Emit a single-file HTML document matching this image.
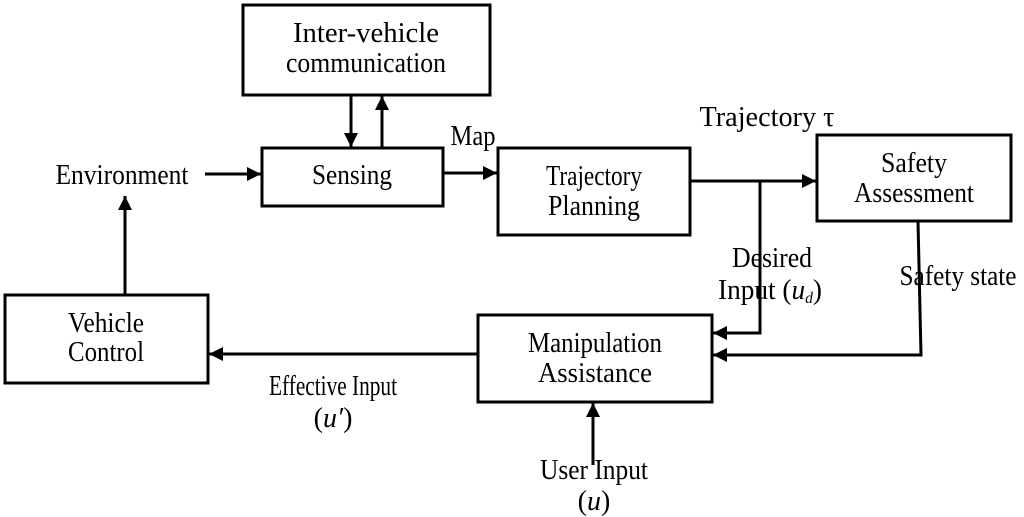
<!DOCTYPE html>
<html><head><style>html,body{margin:0;padding:0;background:#fff}svg{display:block}text{font-family:"Liberation Serif",serif;font-size:28px;fill:#000}</style></head><body>
<svg width="1024" height="517" viewBox="0 0 1024 517" xmlns="http://www.w3.org/2000/svg">
<defs>
<marker id="b" viewBox="0 0 10 10" refX="10" refY="5" markerWidth="16" markerHeight="14" orient="auto" markerUnits="userSpaceOnUse"><path d="M0,0 L10,5 L0,10 z"/></marker></defs>
<g fill="none" stroke="#000" stroke-width="3">
<rect x="243" y="5" width="247" height="90"/>
<rect x="262" y="148" width="181" height="58"/>
<rect x="498" y="148" width="192" height="87"/>
<rect x="817" y="135" width="194" height="86"/>
<rect x="5" y="295" width="203" height="88"/>
<rect x="478" y="315" width="234" height="87"/>
<line x1="351" y1="95" x2="351" y2="147" marker-end="url(#b)"/>
<line x1="382" y1="148" x2="382" y2="96" marker-end="url(#b)"/>
<line x1="205" y1="174" x2="261" y2="174" marker-end="url(#b)"/>
<line x1="443" y1="173" x2="497" y2="173" marker-end="url(#b)"/>
<line x1="690" y1="181" x2="816" y2="181" marker-end="url(#b)"/>
<polyline points="760,181 760,333 713,333" marker-end="url(#b)"/>
<polyline points="918,221 921,355 713,355" marker-end="url(#b)"/>
<line x1="478" y1="354" x2="209" y2="354" marker-end="url(#b)"/>
<line x1="125" y1="295" x2="125" y2="196" marker-end="url(#b)"/>
<line x1="593" y1="465" x2="593" y2="403" marker-end="url(#b)"/>
</g>
<g text-anchor="middle">
<text x="366" y="42" textLength="146" lengthAdjust="spacingAndGlyphs">Inter-vehicle</text>
<text x="366" y="72" textLength="160" lengthAdjust="spacingAndGlyphs">communication</text>
<text x="352" y="184" textLength="80" lengthAdjust="spacingAndGlyphs">Sensing</text>
<text x="122" y="184" textLength="133" lengthAdjust="spacingAndGlyphs">Environment</text>
<text x="473" y="145" textLength="45" lengthAdjust="spacingAndGlyphs">Map</text>
<text x="594" y="185" textLength="96" lengthAdjust="spacingAndGlyphs">Trajectory</text>
<text x="594" y="215" textLength="92" lengthAdjust="spacingAndGlyphs">Planning</text>
<text x="767" y="126" textLength="135" lengthAdjust="spacingAndGlyphs">Trajectory τ</text>
<text x="914" y="172" textLength="66" lengthAdjust="spacingAndGlyphs">Safety</text>
<text x="914" y="202" textLength="120" lengthAdjust="spacingAndGlyphs">Assessment</text>
<text x="772" y="267" textLength="80" lengthAdjust="spacingAndGlyphs">Desired</text>
<text x="770" y="299" font-size="25" textLength="104" lengthAdjust="spacingAndGlyphs">Input (<tspan font-style="italic">u</tspan><tspan font-style="italic" font-size="16" dy="4">d</tspan><tspan dy="-4">)</tspan></text>
<text x="958" y="285" textLength="117" lengthAdjust="spacingAndGlyphs">Safety state</text>
<text x="106" y="332" textLength="76" lengthAdjust="spacingAndGlyphs">Vehicle</text>
<text x="106" y="361" textLength="76" lengthAdjust="spacingAndGlyphs">Control</text>
<text x="595" y="352" textLength="134" lengthAdjust="spacingAndGlyphs">Manipulation</text>
<text x="595" y="382" textLength="114" lengthAdjust="spacingAndGlyphs">Assistance</text>
<text x="333" y="395" textLength="128" lengthAdjust="spacingAndGlyphs">Effective Input</text>
<text x="333" y="427">(<tspan font-style="italic">u′</tspan>)</text>
<text x="594" y="479" textLength="108" lengthAdjust="spacingAndGlyphs">User Input</text>
<text x="594" y="510">(<tspan font-style="italic">u</tspan>)</text>
</g>
</svg>
</body></html>
